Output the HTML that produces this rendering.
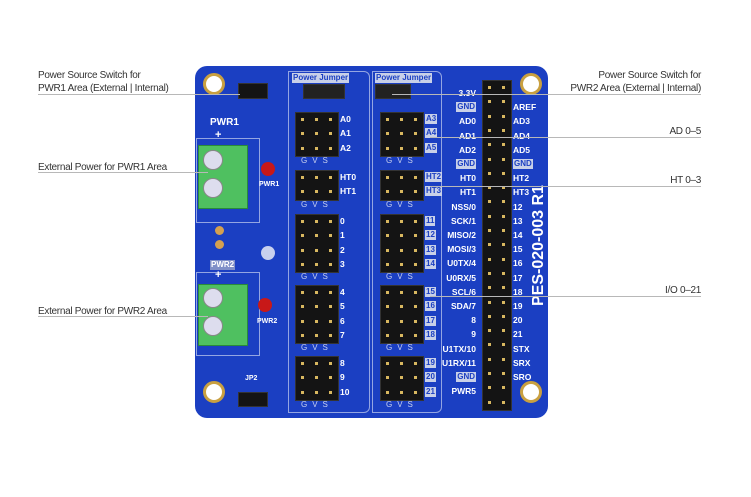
<!DOCTYPE html>
<html><head><meta charset="utf-8"><style>
body{margin:0;width:751px;height:497px;background:#fff;position:relative;overflow:hidden;font-family:"Liberation Sans",sans-serif}
.a{position:absolute}
.ann{position:absolute;font-size:10px;color:#333;line-height:13px;letter-spacing:-0.3px}
.ln{position:absolute;height:1px;background:#b8b8b8}
#board{position:absolute;left:195px;top:66px;width:353px;height:352px;background:#1b3fc2;border-radius:12px}
.hole{position:absolute;width:16px;height:16px;border-radius:50%;background:#fff;border:3px solid #c9a040}
.hdr{position:absolute;background:#141414;border:1px solid #333}
.pin{position:absolute;width:3px;height:3px;background:#d8b860}
.lbl{position:absolute;color:#fff;font-size:8.5px;font-weight:bold}
.box{position:absolute;border:1px solid rgba(200,210,240,.7)}
.tag{position:absolute;background:#c8d0e8;color:#1b3fc2;font-size:8px;font-weight:bold;padding:0 1px;line-height:10px}
.gvs{position:absolute;color:#c8d0ee;font-size:8px;letter-spacing:5px}
.term{position:absolute;background:#4fc060;border:1px solid #2a8a3a}
.screw{position:absolute;width:18px;height:18px;border-radius:50%;background:#dde;border:1px solid #888}
.led{position:absolute;width:14px;height:14px;border-radius:50%;background:#c81818}
</style></head><body>
<div class="ann" style="left:38px;top:69px">Power Source Switch for<br>PWR1 Area (External | Internal)</div>
<div class="ann" style="left:38px;top:161px">External Power for PWR1 Area</div>
<div class="ann" style="left:38px;top:305px">External Power for PWR2 Area</div>
<div class="ann" style="right:50px;top:69px;text-align:right">Power Source Switch for<br>PWR2 Area (External | Internal)</div>
<div class="ann" style="right:50px;top:125px">AD 0–5</div>
<div class="ann" style="right:50px;top:174px">HT 0–3</div>
<div class="ann" style="right:50px;top:284px">I/O 0–21</div>
<div id="board">
<div class="hole" style="left:8px;top:7px"></div><div class="hole" style="left:8px;top:315px"></div>
<div class="hole" style="left:325px;top:7px"></div><div class="hole" style="left:325px;top:315px"></div>
<div class="a" style="left:307px;top:120px;width:40px;height:130px;transform:rotate(-90deg);"></div>
<div class="a" style="left:282px;top:180px;width:140px;color:#fff;font-weight:bold;font-size:16px;transform:rotate(-90deg);transform-origin:0 0;top:240px;left:335px;white-space:nowrap">PES-020-003 R1</div>
<div class="lbl" style="left:15px;top:51px;font-size:10px">PWR1</div>
<div class="box" style="left:1px;top:72px;width:62px;height:83px"></div>
<div class="term" style="left:3px;top:79px;width:48px;height:62px"></div>
<div class="screw" style="left:8px;top:84px"></div><div class="screw" style="left:8px;top:112px"></div>
<div class="lbl" style="left:20px;top:63px;font-size:11px">+</div>
<div class="led" style="left:66px;top:96px"></div><div class="lbl" style="left:64px;top:115px;font-size:7px">PWR1</div>
<div class="tag" style="left:15px;top:194px;background:#8090c8;color:#fff">PWR2</div>
<div class="box" style="left:1px;top:206px;width:62px;height:82px"></div>
<div class="term" style="left:3px;top:218px;width:48px;height:60px"></div>
<div class="screw" style="left:8px;top:222px"></div><div class="screw" style="left:8px;top:250px"></div>
<div class="lbl" style="left:20px;top:203px;font-size:11px">+</div>
<div class="led" style="left:63px;top:232px"></div><div class="lbl" style="left:62px;top:252px;font-size:7px">PWR2</div>
<div class="a" style="left:20px;top:160px;width:9px;height:9px;border-radius:50%;background:#d4a050"></div>
<div class="a" style="left:20px;top:174px;width:9px;height:9px;border-radius:50%;background:#d4a050"></div>
<div class="a" style="left:66px;top:180px;width:14px;height:14px;border-radius:50%;background:#c8d0ee"></div>
<div class="hdr" style="left:43px;top:17px;width:28px;height:14px"></div>
<div class="hdr" style="left:43px;top:326px;width:28px;height:13px"></div>
<div class="lbl" style="left:50px;top:309px;font-size:7px">JP2</div>
<div class="box" style="left:93px;top:5px;width:80px;height:340px;border-radius:0 6px 6px 0"></div>
<div class="box" style="left:177px;top:5px;width:68px;height:340px;border-radius:0 6px 6px 0"></div>
<div class="tag" style="left:97px;top:7px">Power Jumper</div>
<div class="tag" style="left:180px;top:7px">Power Jumper</div>
<div class="hdr" style="left:108px;top:18px;width:40px;height:13px;background:#222"></div>
<div class="hdr" style="left:180px;top:18px;width:34px;height:13px;background:#222"></div>
<div id="g"></div>
</div>
<div class="ln" style="left:38px;top:94px;width:202px"></div>
<div class="ln" style="left:38px;top:172px;width:170px"></div>
<div class="ln" style="left:38px;top:316px;width:170px"></div>
<div class="ln" style="left:392px;top:94px;width:309px"></div>
<div class="ln" style="left:430px;top:137px;width:271px"></div>
<div class="ln" style="left:430px;top:186px;width:271px"></div>
<div class="ln" style="left:430px;top:296px;width:271px"></div>
<script>
var g=document.getElementById('g'),h='';
function hdr(x,y,cols,rows){h+='<div class="hdr" style="left:'+x+'px;top:'+y+'px;width:'+(cols*14)+'px;height:'+(rows*14.3)+'px"></div>';
for(var r=0;r<rows;r++)for(var c=0;c<cols;c++)h+='<div class="pin" style="left:'+(x+6+c*14)+'px;top:'+(y+6+r*14.3)+'px"></div>';}
// board offset 195,66
var blocks=[[46,3,['A0','A1','A2'],['A3','A4','A5']],[104,2,['HT0','HT1'],['HT2','HT3']],[148,4,['0','1','2','3'],['11','12','13','14']],[219,4,['4','5','6','7'],['15','16','17','18']],[290,3,['8','9','10'],['19','20','21']]];
blocks.forEach(function(b){hdr(100,b[0],3,b[1]);hdr(185,b[0],3,b[1]);
for(var i=0;i<b[1];i++){h+='<div class="lbl" style="left:145px;top:'+(b[0]+2+i*14.3)+'px">'+b[2][i]+'</div>';
h+='<div class="tag" style="left:230px;top:'+(b[0]+2+i*14.3)+'px">'+b[3][i]+'</div>';}
h+='<div class="gvs" style="left:106px;top:'+(b[0]+b[1]*14.3+1)+'px">GVS</div><div class="gvs" style="left:191px;top:'+(b[0]+b[1]*14.3+1)+'px">GVS</div>';});
hdr(287,14,2,23);
var L=['3.3V','GND','AD0','AD1','AD2','GND','HT0','HT1','NSS/0','SCK/1','MISO/2','MOSI/3','U0TX/4','U0RX/5','SCL/6','SDA/7','8','9','U1TX/10','U1RX/11','GND','PWR5'];
var R=['','AREF','AD3','AD4','AD5','GND','HT2','HT3','12','13','14','15','16','17','18','19','20','21','STX','SRX','SRO',''];
for(var i=0;i<22;i++){var y=22+i*14.2;var cls=L[i]=='GND'?'tag':'lbl';
h+='<div class="'+cls+'" style="right:72px;top:'+y+'px">'+L[i]+'</div>';
h+='<div class="'+(R[i]=='GND'?'tag':'lbl')+'" style="left:318px;top:'+y+'px">'+R[i]+'</div>';}
g.innerHTML=h;
</script>
</body></html>
